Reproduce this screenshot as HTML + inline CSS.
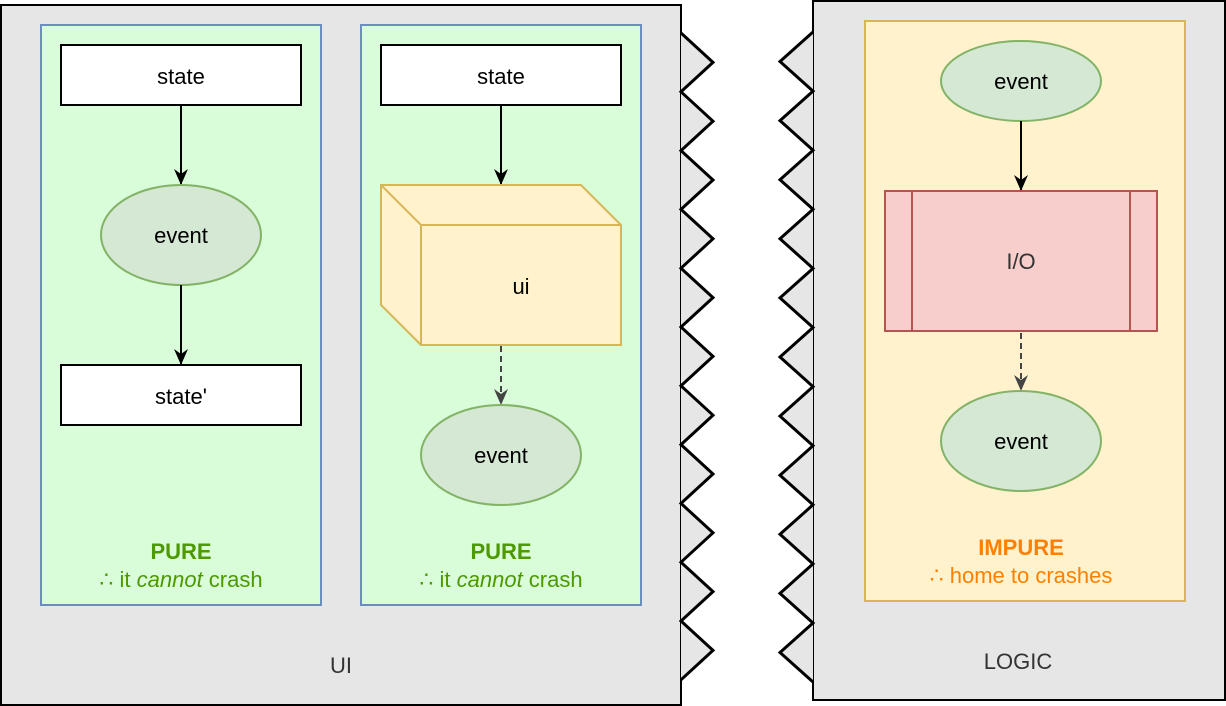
<!DOCTYPE html>
<html><head><meta charset="utf-8"><style>html,body{margin:0;padding:0;background:#fff}svg{display:block}</style></head><body>
<svg width="1226" height="706" viewBox="0 0 1226 706" xmlns="http://www.w3.org/2000/svg" font-family="Liberation Sans, sans-serif">
<defs>
<marker id="a" viewBox="0 0 16 14" refX="15" refY="7" markerWidth="16" markerHeight="14" markerUnits="userSpaceOnUse" orient="auto"><path d="M0,0 L16,7 L0,14 L5,7 z" fill="#000"/></marker>
<marker id="b" viewBox="0 0 16 14" refX="15" refY="7" markerWidth="16" markerHeight="14" markerUnits="userSpaceOnUse" orient="auto"><path d="M0,0 L16,7 L0,14 L5,7 z" fill="#444"/></marker>
</defs>
<rect x="1" y="5" width="680" height="700" fill="#e6e6e6" stroke="#000" stroke-width="2"/>
<rect x="813" y="1" width="412" height="699" fill="#e6e6e6" stroke="#000" stroke-width="2"/>
<polyline points="681,33 713,62.4 681,91.8 713,121.2 681,150.6 713,180 681,209.4 713,238.8 681,268.2 713,297.6 681,327 713,356.4 681,385.8 713,415.2 681,444.6 713,474 681,503.4 713,532.8 681,562.2 713,591.6 681,621 713,650.4 681,679.8" fill="#e6e6e6" stroke="#000" stroke-width="3"/>
<polyline points="813,32 780,61.5 813,91.1 780,120.6 813,150.2 780,179.7 813,209.3 780,238.8 813,268.4 780,297.9 813,327.5 780,357 813,386.6 780,416.1 813,445.7 780,475.2 813,504.8 780,534.3 813,563.9 780,593.4 813,623 780,652.5 813,682" fill="#e6e6e6" stroke="#000" stroke-width="3"/>
<g font-size="22">
<text x="341" y="673" fill="#333" text-anchor="middle">UI</text>
<text x="1018" y="669" fill="#333" text-anchor="middle">LOGIC</text>

<rect x="41" y="25" width="280" height="580" fill="#d9fcd9" stroke="#6c8ebf" stroke-width="2"/>
<rect x="361" y="25" width="280" height="580" fill="#d9fcd9" stroke="#6c8ebf" stroke-width="2"/>
<rect x="865" y="21" width="320" height="580" fill="#fff2cc" stroke="#d6b656" stroke-width="2"/>

<rect x="61" y="45" width="240" height="60" fill="#fff" stroke="#000" stroke-width="2"/>
<text x="181" y="84" text-anchor="middle">state</text>
<line x1="181" y1="105" x2="181" y2="184" stroke="#000" stroke-width="2" marker-end="url(#a)"/>
<ellipse cx="181" cy="235" rx="80" ry="50" fill="#d5e8d4" stroke="#82b366" stroke-width="2"/>
<text x="181" y="243" text-anchor="middle">event</text>
<line x1="181" y1="285" x2="181" y2="364" stroke="#000" stroke-width="2" marker-end="url(#a)"/>
<rect x="61" y="365" width="240" height="60" fill="#fff" stroke="#000" stroke-width="2"/>
<text x="181" y="404" text-anchor="middle">state'</text>
<text x="181" y="559" font-weight="bold" fill="#4d9900" text-anchor="middle">PURE</text>
<text x="181" y="587" fill="#4d9900" text-anchor="middle">∴ it <tspan font-style="italic">cannot</tspan> crash</text>

<rect x="381" y="45" width="240" height="60" fill="#fff" stroke="#000" stroke-width="2"/>
<text x="501" y="84" text-anchor="middle">state</text>
<line x1="501" y1="105" x2="501" y2="184" stroke="#000" stroke-width="2" marker-end="url(#a)"/>
<path d="M381,185 L581,185 L621,225 L621,345 L421,345 L381,305 Z" fill="#fff2cc" stroke="#d6b656" stroke-width="2"/>
<path d="M381,185 L421,225 L621,225 M421,225 L421,345" fill="none" stroke="#d6b656" stroke-width="2"/>
<text x="521" y="294" text-anchor="middle">ui</text>
<line x1="501" y1="346" x2="501" y2="404" stroke="#444" stroke-width="2" stroke-dasharray="6 4" marker-end="url(#b)"/>
<ellipse cx="501" cy="455" rx="80" ry="50" fill="#d5e8d4" stroke="#82b366" stroke-width="2"/>
<text x="501" y="463" text-anchor="middle">event</text>
<text x="501" y="559" font-weight="bold" fill="#4d9900" text-anchor="middle">PURE</text>
<text x="501" y="587" fill="#4d9900" text-anchor="middle">∴ it <tspan font-style="italic">cannot</tspan> crash</text>

<ellipse cx="1021" cy="81" rx="80" ry="40" fill="#d5e8d4" stroke="#82b366" stroke-width="2"/>
<text x="1021" y="89" text-anchor="middle">event</text>
<line x1="1021" y1="121" x2="1021" y2="190" stroke="#000" stroke-width="2" marker-end="url(#a)"/>
<rect x="885" y="191" width="272" height="140" fill="#f8cecc" stroke="#b85450" stroke-width="2"/>
<line x1="912" y1="191" x2="912" y2="331" stroke="#b85450" stroke-width="2"/>
<line x1="1130" y1="191" x2="1130" y2="331" stroke="#b85450" stroke-width="2"/>
<text x="1021" y="269" fill="#333" text-anchor="middle">I/O</text>
<line x1="1021" y1="333" x2="1021" y2="390" stroke="#444" stroke-width="2" stroke-dasharray="6 4" marker-end="url(#b)"/>
<ellipse cx="1021" cy="441" rx="80" ry="50" fill="#d5e8d4" stroke="#82b366" stroke-width="2"/>
<text x="1021" y="449" text-anchor="middle">event</text>
<text x="1021" y="555" font-weight="bold" fill="#ff8000" text-anchor="middle">IMPURE</text>
<text x="1021" y="583" fill="#ff8000" text-anchor="middle">∴ home to crashes</text>
</g>
</svg>
</body></html>
